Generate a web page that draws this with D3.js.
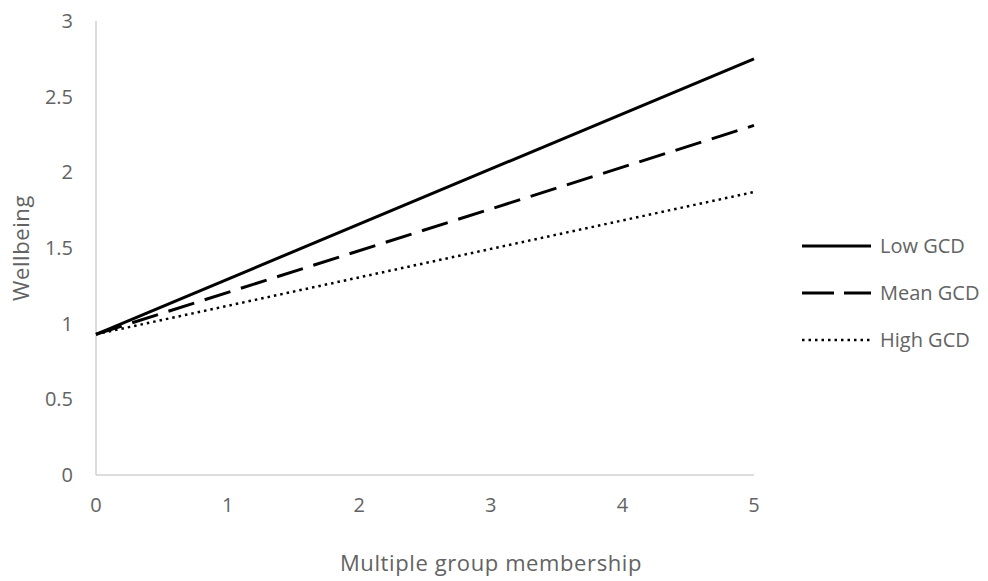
<!DOCTYPE html>
<html lang="en">
<head>
    <meta charset="UTF-8">
    <script src="https://d3js.org/d3.v7.min.js"></script>
    <style>
        body { margin: 0; background: #fff; font-family: "Open Sans", "Noto Sans", sans-serif; }
        .tick-label { font-size: 20px; fill: #636363; }
        .axis-title { font-size: 22px; fill: #636363; letter-spacing: 0.6px; }
        .legend-text { font-size: 20px; fill: #636363; }
    </style>
</head>
<body>
    <svg id="chart"></svg>
    <script>
        // data
        const xValues = [0, 5];
        const seriesNames = ["Low GCD", "Mean GCD", "High GCD"];
        const lowGCD = [0.93, 2.75];
        const meanGCD = [0.93, 2.31];
        const highGCD = [0.93, 1.87];
        const xTicks = [0, 1, 2, 3, 4, 5];
        const yTicks = [0, 0.5, 1, 1.5, 2, 2.5, 3];

        const W = 988, H = 581;
        const margin = {top: 21, right: 234, bottom: 106, left: 96};

        const svg = d3.select("#chart").attr("width", W).attr("height", H);

        const x = d3.scaleLinear().domain([0, 5]).range([margin.left, W - margin.right]);
        const y = d3.scaleLinear().domain([0, 3]).range([H - margin.bottom, margin.top]);

        // axis lines
        svg.append("line")
            .attr("x1", x(0)).attr("x2", x(0))
            .attr("y1", y(0)).attr("y2", y(3))
            .attr("stroke", "#d0d0d0").attr("stroke-width", 1.5);
        svg.append("line")
            .attr("x1", x(0)).attr("x2", x(5))
            .attr("y1", y(0)).attr("y2", y(0))
            .attr("stroke", "#d0d0d0").attr("stroke-width", 1.5);

        // tick labels
        svg.selectAll(".ylab")
            .data(yTicks)
            .enter()
            .append("text")
            .attr("class", "tick-label")
            .attr("x", x(0) - 23)
            .attr("y", d => y(d))
            .attr("dy", "0.35em")
            .attr("text-anchor", "end")
            .text(d => d);

        svg.selectAll(".xlab")
            .data(xTicks)
            .enter()
            .append("text")
            .attr("class", "tick-label")
            .attr("x", d => x(d))
            .attr("y", y(0) + 30)
            .attr("dy", "0.35em")
            .attr("text-anchor", "middle")
            .text(d => d);

        // axis titles
        svg.append("text")
            .attr("class", "axis-title")
            .attr("x", 491)
            .attr("y", 563)
            .attr("dy", "0.35em")
            .attr("text-anchor", "middle")
            .text("Multiple group membership");

        svg.append("text")
            .attr("class", "axis-title")
            .attr("transform", `translate(21,248) rotate(-90)`)
            .attr("dy", "0.35em")
            .attr("text-anchor", "middle")
            .text("Wellbeing");

        const series = [
            {name: seriesNames[0], values: lowGCD, dash: null, legendDash: null, width: 3},
            {name: seriesNames[1], values: meanGCD, dash: "27,11", legendDash: "32,10", width: 3},
            {name: seriesNames[2], values: highGCD, dash: "2.5,4", legendDash: "2.5,4", width: 2.5}
        ];

        const line = d3.line()
            .x((d, i) => x(xValues[i]))
            .y(d => y(d));

        svg.selectAll(".series")
            .data(series)
            .enter()
            .append("path")
            .attr("class", "series")
            .attr("d", d => line(d.values))
            .attr("fill", "none")
            .attr("stroke", "#000")
            .attr("stroke-width", d => d.width)
            .attr("stroke-dasharray", d => d.dash);

        // legend
        const legend = svg.selectAll(".legend")
            .data(series)
            .enter()
            .append("g")
            .attr("transform", (d, i) => `translate(802,${246 + i * 47})`);

        legend.append("line")
            .attr("x1", 0).attr("x2", 69)
            .attr("y1", 0).attr("y2", 0)
            .attr("stroke", "#000")
            .attr("stroke-width", d => d.width)
            .attr("stroke-dasharray", d => d.legendDash);

        legend.append("text")
            .attr("class", "legend-text")
            .attr("x", 78)
            .attr("y", 0)
            .attr("dy", "0.35em")
            .text(d => d.name);
    </script>
</body>
</html>
